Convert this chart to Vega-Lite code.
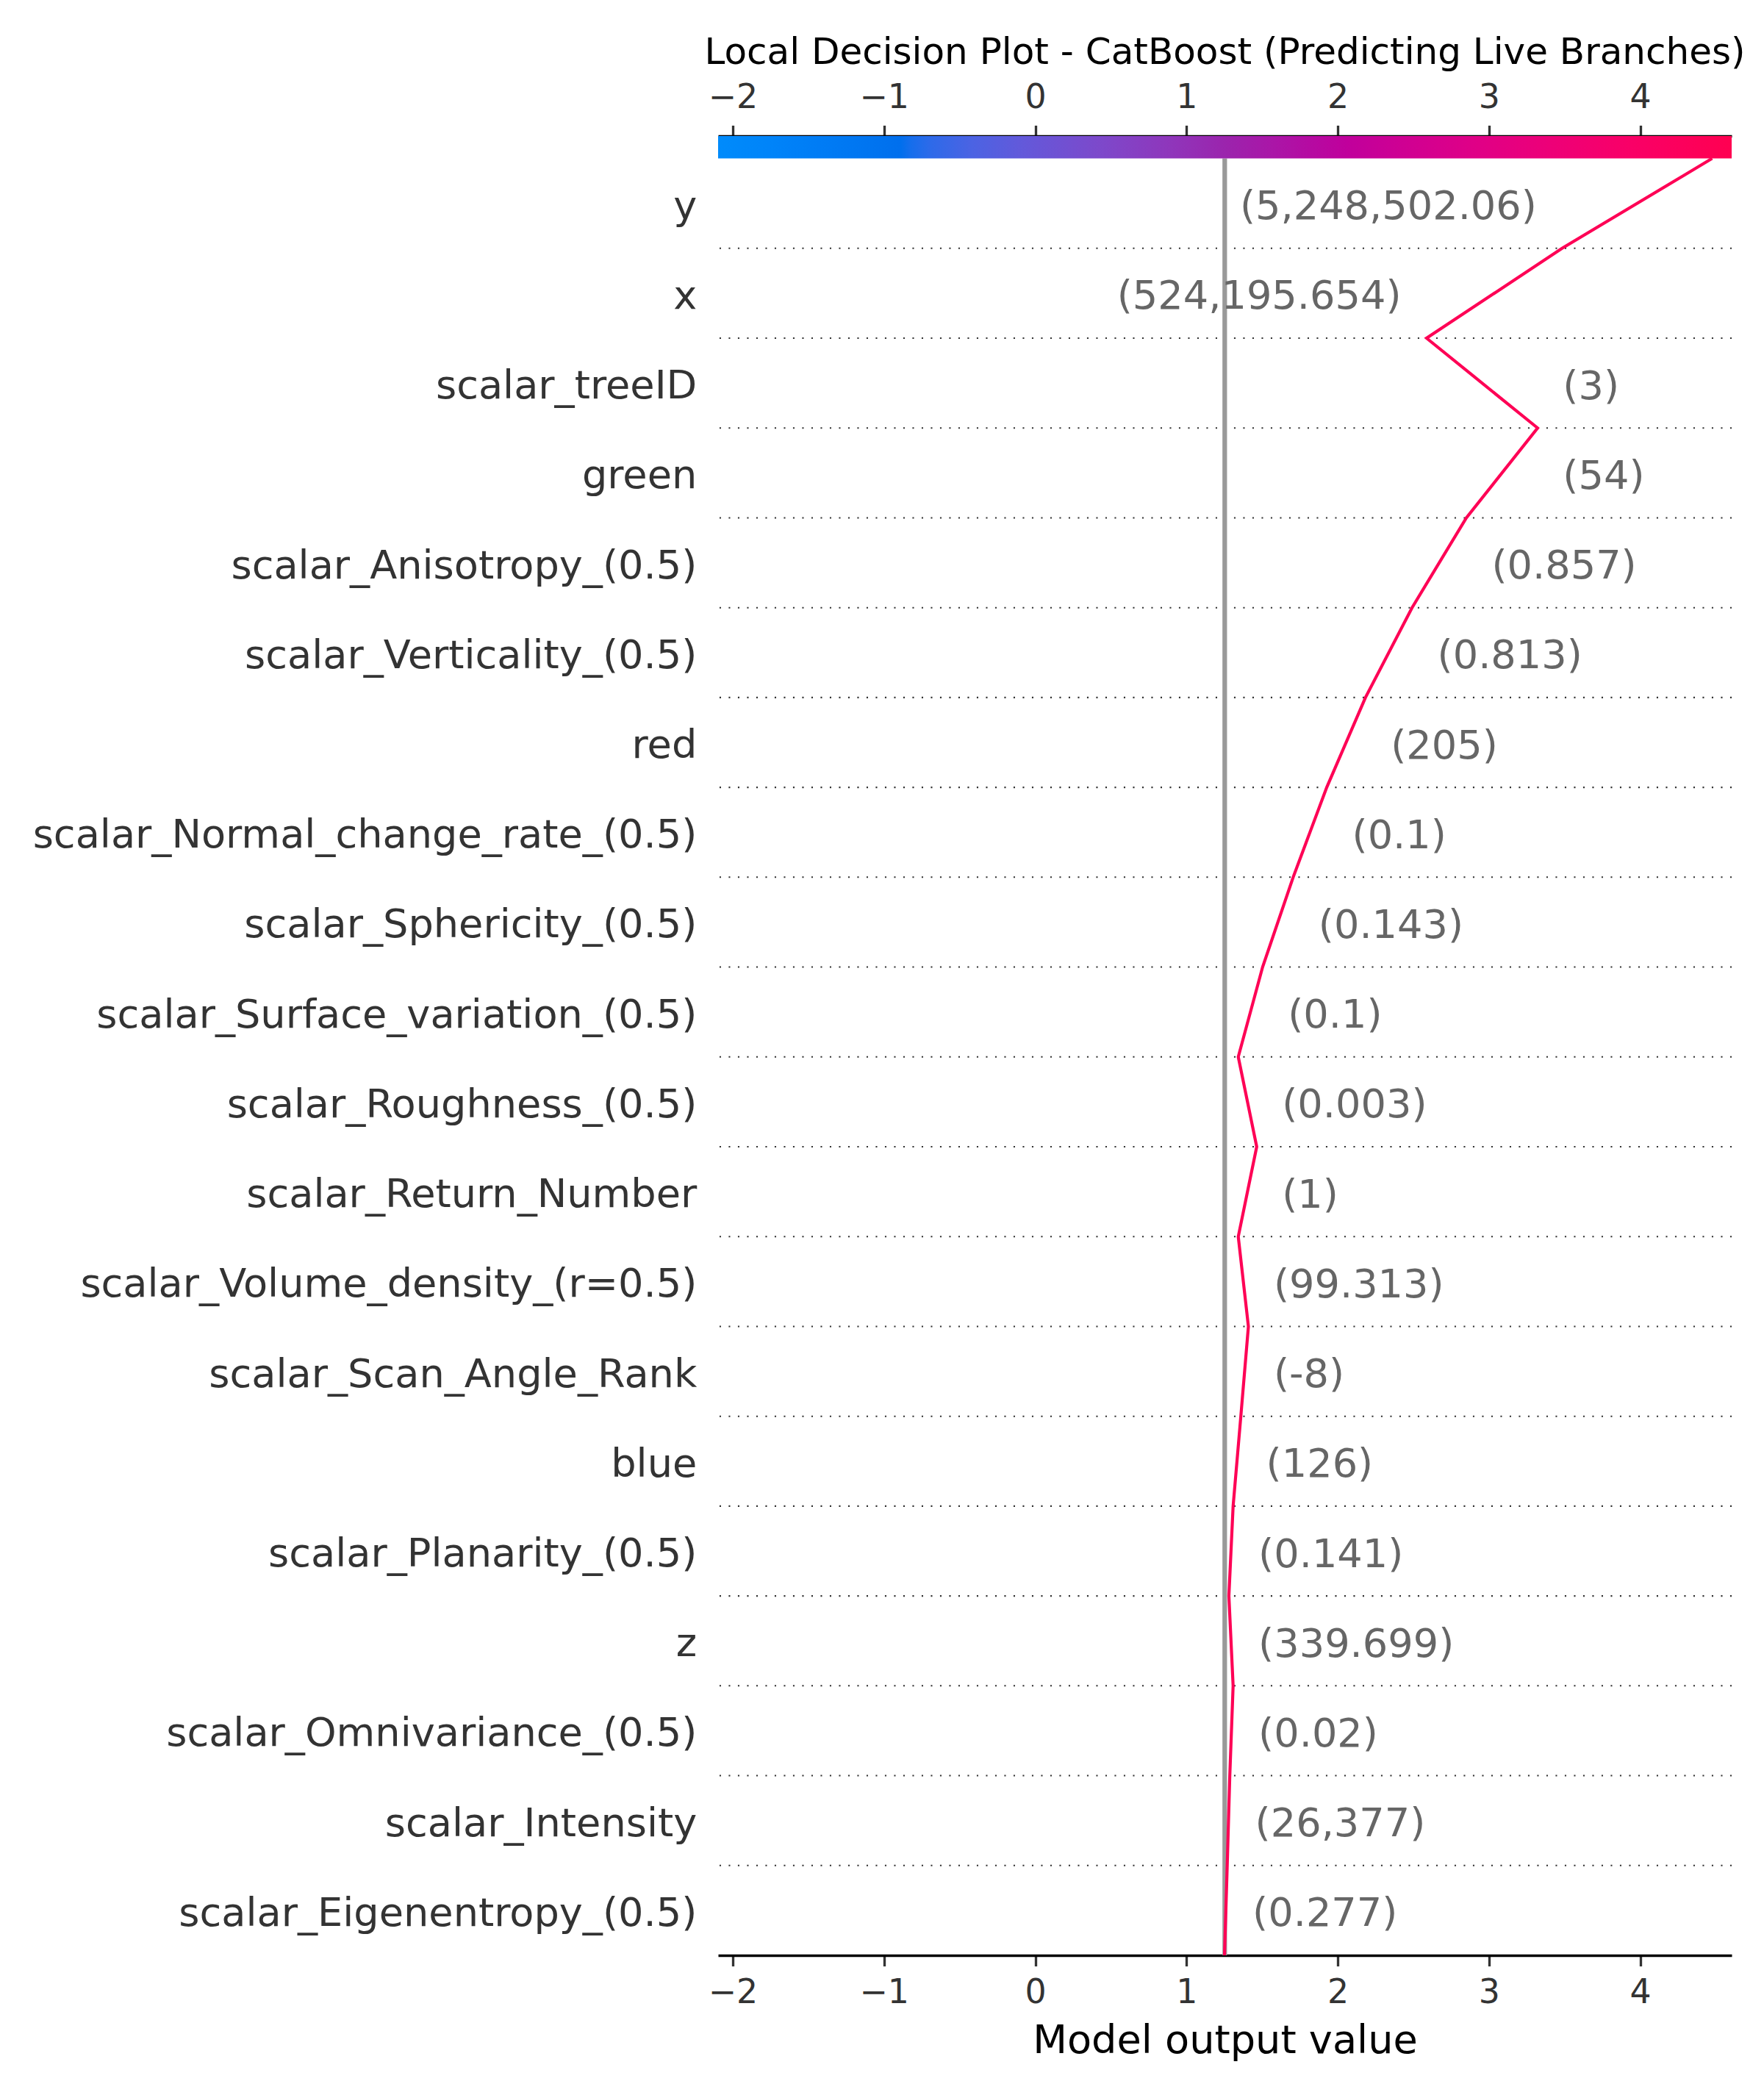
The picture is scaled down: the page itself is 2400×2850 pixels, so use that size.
{
  "$schema": "https://vega.github.io/schema/vega-lite/v6.json",
  "width": 1379,
  "height": 2475,
  "autosize": {"type": "none"},
  "padding": {"left": 977, "top": 185, "right": 44, "bottom": 190},
  "background": "white",
  "title": {"text": "Local Decision Plot - CatBoost (Predicting Live Branches)", "anchor": "middle", "frame": "group", "fontSize": 50, "font": "DejaVu Sans", "fontWeight": "normal", "color": "#000000", "baseline": "alphabetic", "offset": -27},
  "datasets": {
    "base": [{"base_value": 1.2525}],
    "demarcations": [{"boundary": 1}, {"boundary": 2}, {"boundary": 3}, {"boundary": 4}, {"boundary": 5}, {"boundary": 6}, {"boundary": 7}, {"boundary": 8}, {"boundary": 9}, {"boundary": 10}, {"boundary": 11}, {"boundary": 12}, {"boundary": 13}, {"boundary": 14}, {"boundary": 15}, {"boundary": 16}, {"boundary": 17}, {"boundary": 18}, {"boundary": 19}],
    "path": [
      {"step": 0, "output": 1.251},
      {"step": 1, "output": 1.269},
      {"step": 2, "output": 1.286},
      {"step": 3, "output": 1.308},
      {"step": 4, "output": 1.280},
      {"step": 5, "output": 1.308},
      {"step": 6, "output": 1.359},
      {"step": 7, "output": 1.409},
      {"step": 8, "output": 1.342},
      {"step": 9, "output": 1.464},
      {"step": 10, "output": 1.342},
      {"step": 11, "output": 1.503},
      {"step": 12, "output": 1.705},
      {"step": 13, "output": 1.927},
      {"step": 14, "output": 2.183},
      {"step": 15, "output": 2.491},
      {"step": 16, "output": 2.850},
      {"step": 17, "output": 3.321},
      {"step": 18, "output": 2.587},
      {"step": 19, "output": 3.483},
      {"step": 20, "output": 4.475}
    ],
    "features": [
      {"feature": "y", "value_label": "(5,248,502.06)", "label_output": 3.483},
      {"feature": "x", "value_label": "(524,195.654)", "label_output": 2.587},
      {"feature": "scalar_treeID", "value_label": "(3)", "label_output": 3.321},
      {"feature": "green", "value_label": "(54)", "label_output": 3.321},
      {"feature": "scalar_Anisotropy_(0.5)", "value_label": "(0.857)", "label_output": 2.850},
      {"feature": "scalar_Verticality_(0.5)", "value_label": "(0.813)", "label_output": 2.491},
      {"feature": "red", "value_label": "(205)", "label_output": 2.183},
      {"feature": "scalar_Normal_change_rate_(0.5)", "value_label": "(0.1)", "label_output": 1.927},
      {"feature": "scalar_Sphericity_(0.5)", "value_label": "(0.143)", "label_output": 1.705},
      {"feature": "scalar_Surface_variation_(0.5)", "value_label": "(0.1)", "label_output": 1.503},
      {"feature": "scalar_Roughness_(0.5)", "value_label": "(0.003)", "label_output": 1.464},
      {"feature": "scalar_Return_Number", "value_label": "(1)", "label_output": 1.464},
      {"feature": "scalar_Volume_density_(r=0.5)", "value_label": "(99.313)", "label_output": 1.409},
      {"feature": "scalar_Scan_Angle_Rank", "value_label": "(-8)", "label_output": 1.409},
      {"feature": "blue", "value_label": "(126)", "label_output": 1.359},
      {"feature": "scalar_Planarity_(0.5)", "value_label": "(0.141)", "label_output": 1.308},
      {"feature": "z", "value_label": "(339.699)", "label_output": 1.308},
      {"feature": "scalar_Omnivariance_(0.5)", "value_label": "(0.02)", "label_output": 1.308},
      {"feature": "scalar_Intensity", "value_label": "(26,377)", "label_output": 1.286},
      {"feature": "scalar_Eigenentropy_(0.5)", "value_label": "(0.277)", "label_output": 1.269}
    ]
  },
  "layer": [
    {
      "data": {"name": "demarcations"},
      "mark": {"type": "rule", "color": "#333333", "strokeWidth": 2.08, "strokeDash": [2.08, 10.42], "strokeCap": "butt"},
      "encoding": {
        "y": {"field": "boundary", "type": "quantitative", "scale": {"domain": [0, 20.25], "nice": false, "zero": false}, "axis": null}
      }
    },
    {
      "data": {"name": "base"},
      "mark": {"type": "rule", "color": "#999999", "strokeWidth": 6.25},
      "encoding": {
        "x": {"field": "base_value", "type": "quantitative", "scale": {"domain": [-2.097, 4.604], "nice": false, "zero": false}, "axis": null},
        "y": {"datum": 0, "type": "quantitative", "scale": {"domain": [0, 20.25], "nice": false, "zero": false}, "axis": null},
        "y2": {"datum": 20}
      }
    },
    {
      "data": {"name": "base"},
      "mark": {
        "type": "rect",
        "strokeWidth": 0,
        "fill": {
          "gradient": "linear", "x1": 0, "y1": 0, "x2": 1, "y2": 0,
          "stops": [
            {"offset": 0.0, "color": "#008bfb"},
            {"offset": 0.05, "color": "#0084f9"},
            {"offset": 0.10, "color": "#007cf5"},
            {"offset": 0.14, "color": "#0076f1"},
            {"offset": 0.18, "color": "#006fed"},
            {"offset": 0.19, "color": "#156eec"},
            {"offset": 0.21, "color": "#2e6ae9"},
            {"offset": 0.25, "color": "#4b63e3"},
            {"offset": 0.30, "color": "#6359da"},
            {"offset": 0.38, "color": "#7e48ca"},
            {"offset": 0.45, "color": "#9035ba"},
            {"offset": 0.50, "color": "#9b24ad"},
            {"offset": 0.55, "color": "#ab15a7"},
            {"offset": 0.62, "color": "#c0009c"},
            {"offset": 0.68, "color": "#d00092"},
            {"offset": 0.75, "color": "#e00086"},
            {"offset": 0.82, "color": "#ed0078"},
            {"offset": 0.90, "color": "#f90067"},
            {"offset": 1.0, "color": "#ff0051"}
          ]
        }
      },
      "encoding": {
        "x": {"datum": -2.097, "type": "quantitative", "scale": {"domain": [-2.097, 4.604], "nice": false, "zero": false},
          "axis": {"orient": "top", "values": [-2, -1, 0, 1, 2, 3, 4], "format": "d", "title": null, "grid": false,
            "labelFont": "DejaVu Sans", "labelFontSize": 45.83, "labelColor": "#333333", "labelBaseline": "alphabetic", "labelPadding": 23.7,
            "labelFlush": false, "labelOverlap": false, "tickColor": "#333333", "tickWidth": 3.33, "tickSize": 14.58,
            "domainColor": "#000000", "domainWidth": 3.33}},
        "x2": {"datum": 4.604},
        "y": {"datum": 20, "type": "quantitative", "scale": {"domain": [0, 20.25], "nice": false, "zero": false}, "axis": null},
        "y2": {"datum": 20.25}
      }
    },
    {
      "data": {"name": "path"},
      "mark": {"type": "line", "color": "#fe0055", "strokeWidth": 4.17},
      "encoding": {
        "x": {"field": "output", "type": "quantitative", "scale": {"domain": [-2.097, 4.604], "nice": false, "zero": false},
          "axis": {"orient": "bottom", "values": [-2, -1, 0, 1, 2, 3, 4], "format": "d", "grid": false,
            "title": "Model output value", "titleFont": "DejaVu Sans", "titleFontSize": 54.17, "titleColor": "#000000", "titleFontWeight": "normal",
            "titleBaseline": "alphabetic", "titleY": 132.5,
            "labelFont": "DejaVu Sans", "labelFontSize": 45.83, "labelColor": "#333333", "labelBaseline": "alphabetic", "labelPadding": 50,
            "labelFlush": false, "labelOverlap": false, "tickColor": "#333333", "tickWidth": 3.33, "tickSize": 14.58,
            "domainColor": "#000000", "domainWidth": 3.33}},
        "y": {"field": "step", "type": "quantitative", "scale": {"domain": [0, 20.25], "nice": false, "zero": false}, "axis": null},
        "order": {"field": "step", "type": "quantitative"}
      }
    },
    {
      "data": {"name": "features"},
      "layer": [
        {
          "transform": [{"filter": "datum.feature != 'y' && datum.feature != 'x'"}],
          "mark": {"type": "text", "align": "left", "baseline": "alphabetic", "dx": 34.4, "dy": 21.5, "font": "DejaVu Sans", "fontSize": 54.17, "color": "#666666"},
          "encoding": {
            "x": {"field": "label_output", "type": "quantitative", "scale": {"domain": [-2.097, 4.604], "nice": false, "zero": false}, "axis": null},
            "y": {"field": "feature", "type": "nominal", "sort": null,
              "scale": {"type": "band", "domain": ["y", "x", "scalar_treeID", "green", "scalar_Anisotropy_(0.5)", "scalar_Verticality_(0.5)", "red", "scalar_Normal_change_rate_(0.5)", "scalar_Sphericity_(0.5)", "scalar_Surface_variation_(0.5)", "scalar_Roughness_(0.5)", "scalar_Return_Number", "scalar_Volume_density_(r=0.5)", "scalar_Scan_Angle_Rank", "blue", "scalar_Planarity_(0.5)", "z", "scalar_Omnivariance_(0.5)", "scalar_Intensity", "scalar_Eigenentropy_(0.5)"], "paddingInner": 0, "paddingOuter": 0.125, "align": 1},
              "axis": {"title": null, "domain": false, "ticks": false, "grid": false, "labelFont": "DejaVu Sans", "labelFontSize": 54.17, "labelColor": "#333333",
                "labelPadding": 29.2, "labelBaseline": "alphabetic", "labelOffset": 21, "labelLimit": 1500, "labelAlign": "right"}},
            "text": {"field": "value_label"}
          }
        },
        {
          "transform": [{"filter": "datum.feature == 'y' || datum.feature == 'x'"}],
          "mark": {"type": "text", "align": "right", "baseline": "alphabetic", "dx": -34.4, "dy": 21.5, "font": "DejaVu Sans", "fontSize": 54.17, "color": "#666666"},
          "encoding": {
            "x": {"field": "label_output", "type": "quantitative", "scale": {"domain": [-2.097, 4.604], "nice": false, "zero": false}, "axis": null},
            "y": {"field": "feature", "type": "nominal", "sort": null,
              "scale": {"type": "band", "domain": ["y", "x", "scalar_treeID", "green", "scalar_Anisotropy_(0.5)", "scalar_Verticality_(0.5)", "red", "scalar_Normal_change_rate_(0.5)", "scalar_Sphericity_(0.5)", "scalar_Surface_variation_(0.5)", "scalar_Roughness_(0.5)", "scalar_Return_Number", "scalar_Volume_density_(r=0.5)", "scalar_Scan_Angle_Rank", "blue", "scalar_Planarity_(0.5)", "z", "scalar_Omnivariance_(0.5)", "scalar_Intensity", "scalar_Eigenentropy_(0.5)"], "paddingInner": 0, "paddingOuter": 0.125, "align": 1},
              "axis": {"title": null, "domain": false, "ticks": false, "grid": false, "labelFont": "DejaVu Sans", "labelFontSize": 54.17, "labelColor": "#333333",
                "labelPadding": 29.2, "labelBaseline": "alphabetic", "labelOffset": 21, "labelLimit": 1500, "labelAlign": "right"}},
            "text": {"field": "value_label"}
          }
        }
      ]
    }
  ],
  "resolve": {"scale": {"y": "independent"}, "axis": {"x": "independent"}},
  "config": {"view": {"stroke": null}, "font": "DejaVu Sans"}
}
